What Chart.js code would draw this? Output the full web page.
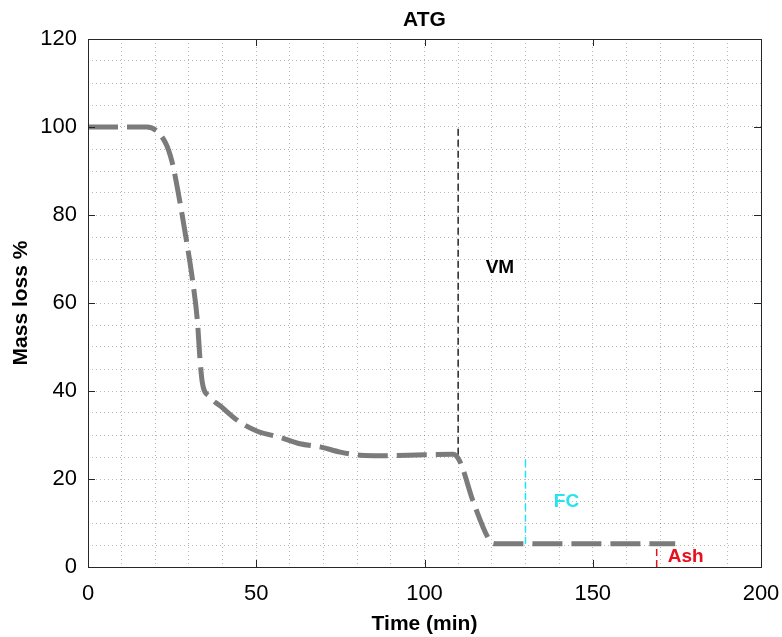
<!DOCTYPE html>
<html>
<head>
<meta charset="utf-8">
<script src="https://cdn.jsdelivr.net/npm/chart.js@4"></script>
<style>
  html, body { margin: 0; padding: 0; background: #fff; }
  #wrap { width: 782px; height: 637px; position: relative; }
</style>
</head>
<body>
<div id="wrap"><canvas id="atg-chart"></canvas></div>
<script>
// ATG curve
const timeMin = [0, 8, 17.5, 22.9, 25, 27.3, 29.3, 31.1, 32.5, 33.3, 34, 36, 39.5, 45, 50.5, 57, 63, 69, 75, 81, 87, 100, 108.5, 110.5, 114.5, 119.5, 121, 140, 160, 174.5];
const massLoss = [100, 100, 100, 96.6, 92, 83, 74, 65, 56, 47, 41.8, 38.8, 36.5, 33, 30.8, 29.5, 28, 27.3, 26.1, 25.4, 25.3, 25.5, 25.6, 24, 14.8, 5.9, 5.3, 5.3, 5.3, 5.3];

// marker lines: VM, FC, Ash
const vmX = [110, 110];
const vmY = [25.5, 100];
const fcX = [130, 130];
const fcY = [5.3, 25];
const ashX = [169, 169];
const ashY = [0, 5.3];

// text labels
const labelText = ['VM', 'FC', 'Ash'];
const labelX = [122.4, 142.2, 177.6];
const labelY = [67.9, 14.8, 2.3];
const labelColor = ['#000000', '#22e4f2', '#e8101a'];

// axes
const titleText = 'ATG';
const xMajor = [0, 50, 100, 150, 200];
const yMajor = [0, 20, 40, 60, 80, 100, 120];

const FONT = '"Liberation Sans", Arial, Helvetica, sans-serif';

const toPoints = (xs, ys) => xs.map((v, i) => ({ x: v, y: ys[i] }));

// box, inward ticks, title centred on the plot, text labels
const framePlugin = {
    id: 'frame',
    afterDraw(chart) {
        const { ctx, chartArea: a, scales: { x, y } } = chart;
        ctx.save();
        ctx.strokeStyle = '#262626';
        ctx.lineWidth = 1;
        ctx.strokeRect(a.left + 0.5, a.top + 0.5, a.width, a.height);
        ctx.beginPath();
        xMajor.forEach(v => {
            const px = Math.round(x.getPixelForValue(v)) + 0.5;
            ctx.moveTo(px, a.bottom); ctx.lineTo(px, a.bottom - 7);
            ctx.moveTo(px, a.top); ctx.lineTo(px, a.top + 7);
        });
        yMajor.forEach(v => {
            const py = Math.round(y.getPixelForValue(v)) + 0.5;
            ctx.moveTo(a.left, py); ctx.lineTo(a.left + 7, py);
            ctx.moveTo(a.right, py); ctx.lineTo(a.right - 7, py);
        });
        ctx.stroke();

        ctx.textAlign = 'center';
        ctx.textBaseline = 'middle';
        ctx.fillStyle = '#000';
        ctx.font = 'bold 21px ' + FONT;
        ctx.fillText(titleText, (a.left + a.right) / 2, 20);

        ctx.font = 'bold 19px ' + FONT;
        labelText.forEach((t, i) => {
            ctx.fillStyle = labelColor[i];
            ctx.fillText(t, x.getPixelForValue(labelX[i]), y.getPixelForValue(labelY[i]));
        });
        ctx.restore();
    }
};

const ctx = document.getElementById('atg-chart').getContext('2d');
new Chart(ctx, {
    type: 'line',
    data: {
        datasets: [
            {
                label: 'ATG',
                data: toPoints(timeMin, massLoss),
                borderColor: '#7b7b7b',
                borderWidth: 5,
                borderDash: [30, 9],
                cubicInterpolationMode: 'monotone',
                pointRadius: 0,
                fill: false
            },
            {
                label: 'VM',
                data: toPoints(vmX, vmY),
                borderColor: '#262626',
                borderWidth: 1.5,
                borderDash: [7, 4],
                pointRadius: 0,
                fill: false
            },
            {
                label: 'FC',
                data: toPoints(fcX, fcY),
                borderColor: '#22e4f2',
                borderWidth: 1.5,
                borderDash: [7, 4],
                pointRadius: 0,
                fill: false
            },
            {
                label: 'Ash',
                data: toPoints(ashX, ashY),
                borderColor: '#e8101a',
                borderWidth: 1.5,
                borderDash: [7, 4],
                pointRadius: 0,
                fill: false
            }
        ]
    },
    options: {
        responsive: true,
        maintainAspectRatio: false,
        animation: false,
        layout: { padding: { top: 39, right: 21, bottom: 0, left: 0 } },
        plugins: {
            legend: { display: false },
            tooltip: { enabled: false },
            title: { display: false }
        },
        scales: {
            x: {
                type: 'linear',
                min: 0,
                max: 200,
                afterFit: s => { s.height = 70; s.paddingRight = 21; },
                grid: { color: 'rgba(0,0,0,0.28)', lineWidth: 1, drawTicks: false },
                border: { display: false, dash: [1, 3] },
                ticks: {
                    stepSize: 10,
                    autoSkip: false,
                    maxRotation: 0,
                    padding: 14,
                    color: '#000',
                    font: { family: FONT, size: 22 },
                    callback: v => (v % 50 === 0 ? v : '')
                },
                title: {
                    display: true,
                    text: 'Time (min)',
                    color: '#000',
                    font: { family: FONT, size: 21, weight: 'bold' },
                    padding: { top: 0, bottom: 0 }
                }
            },
            y: {
                min: 0,
                max: 120,
                afterFit: s => { s.width = 88; },
                grid: { color: 'rgba(0,0,0,0.28)', lineWidth: 1, drawTicks: false },
                border: { display: false, dash: [1, 3] },
                ticks: {
                    stepSize: 5,
                    autoSkip: false,
                    padding: 11,
                    color: '#000',
                    font: { family: FONT, size: 22 },
                    callback: v => (v % 20 === 0 ? v : '')
                },
                title: {
                    display: true,
                    text: 'Mass loss %',
                    color: '#000',
                    font: { family: FONT, size: 21, weight: 'bold' },
                    padding: { top: 9, bottom: 0 }
                }
            }
        }
    },
    plugins: [framePlugin]
});
</script>
</body>
</html>
